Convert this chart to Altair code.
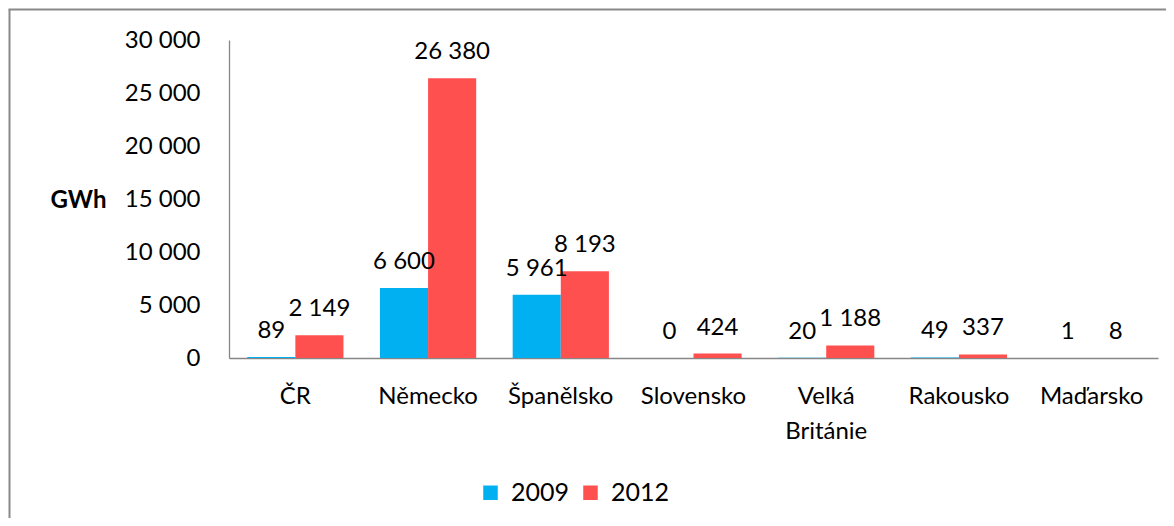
import altair as alt
import pandas as pd

countries = ["ČR", "Německo", "Španělsko", "Slovensko", "Velká Británie", "Rakousko", "Maďarsko"]
years = ["2009", "2012"]
values_2009 = [89, 6600, 5961, 0, 20, 49, 1]
values_2012 = [2149, 26380, 8193, 424, 1188, 337, 8]
y_ticks = [0, 5000, 10000, 15000, 20000, 25000, 30000]
colors = ["#00B0F0", "#FF5050"]

rows = []
for c, v1, v2 in zip(countries, values_2009, values_2012):
    rows.append({"country": c, "year": "2009", "value": v1})
    rows.append({"country": c, "year": "2012", "value": v2})
df = pd.DataFrame(rows)

FONT = "Lato"
W, H = 929, 318

base = alt.Chart(df).transform_calculate(
    label="replace(format(datum.value, ','), ',', ' ')"
)

x_enc = alt.X(
    "country:N",
    sort=countries,
    scale=alt.Scale(paddingInner=0.275, paddingOuter=0.1375),
    axis=alt.Axis(
        title=None,
        labelAngle=0,
        labelExpr="split(datum.label, ' ')",
        labelFont=FONT,
        labelFontSize=24,
        labelColor="#000000",
        labelPadding=26,
        labelLineHeight=35,
        ticks=False,
        domainColor="#868686",
        domainWidth=1.3,
    ),
)
y_enc = alt.Y(
    "value:Q",
    scale=alt.Scale(domain=[0, 30000], nice=False),
    axis=alt.Axis(
        values=y_ticks,
        title="GWh",
        titleAngle=0,
        titleFont=FONT,
        titleFontSize=24,
        titleFontWeight="bold",
        titleColor="#000000",
        titleX=-151,
        titleY=160,
        titleAlign="center",
        titleBaseline="middle",
        labelExpr="replace(format(datum.value, ','), ',', ' ')",
        labelFont=FONT,
        labelFontSize=24,
        labelColor="#000000",
        labelPadding=29,
        ticks=False,
        grid=False,
        domainColor="#868686",
        domainWidth=1.3,
    ),
)
xoff = alt.XOffset("year:N", sort=years, scale=alt.Scale(paddingInner=0, paddingOuter=0))

bars = base.mark_bar().encode(
    x=x_enc,
    y=y_enc,
    xOffset=xoff,
    color=alt.Color(
        "year:N",
        sort=years,
        scale=alt.Scale(domain=years, range=colors),
        legend=alt.Legend(
            title=None,
            orient="none",
            direction="horizontal",
            legendX=249,
            legendY=440,
            symbolType="square",
            symbolSize=210,
            symbolStrokeWidth=0,
            labelFont=FONT,
            labelFontSize=25,
            labelColor="#000000",
            labelOffset=8,
            columnPadding=8,
        ),
    ),
)

texts = base.mark_text(
    font=FONT, fontSize=24, color="#000000", baseline="alphabetic", dy=-19
).encode(
    x=alt.X("country:N", sort=countries),
    y=alt.Y("value:Q"),
    xOffset=xoff,
    text="label:N",
)

frame_v = alt.Chart(alt.Data(values=[{}])).mark_rule(color="#898989", strokeWidth=2).encode(
    x=alt.value(-219.5), y=alt.value(-30.5), y2=alt.value(480)
)
frame_h = alt.Chart(alt.Data(values=[{}])).mark_rule(color="#898989", strokeWidth=2).encode(
    x=alt.value(-220.5), x2=alt.value(950), y=alt.value(-30.5)
)

chart = alt.layer(bars, texts, frame_v, frame_h).properties(
    width=W,
    height=H,
    autosize=alt.AutoSizeParams(type="none"),
    padding={"left": 221, "top": 32, "right": 8, "bottom": 160},
).configure_view(stroke=None)

chart.save("out.html", embed_options={"renderer": "svg", "actions": False})
